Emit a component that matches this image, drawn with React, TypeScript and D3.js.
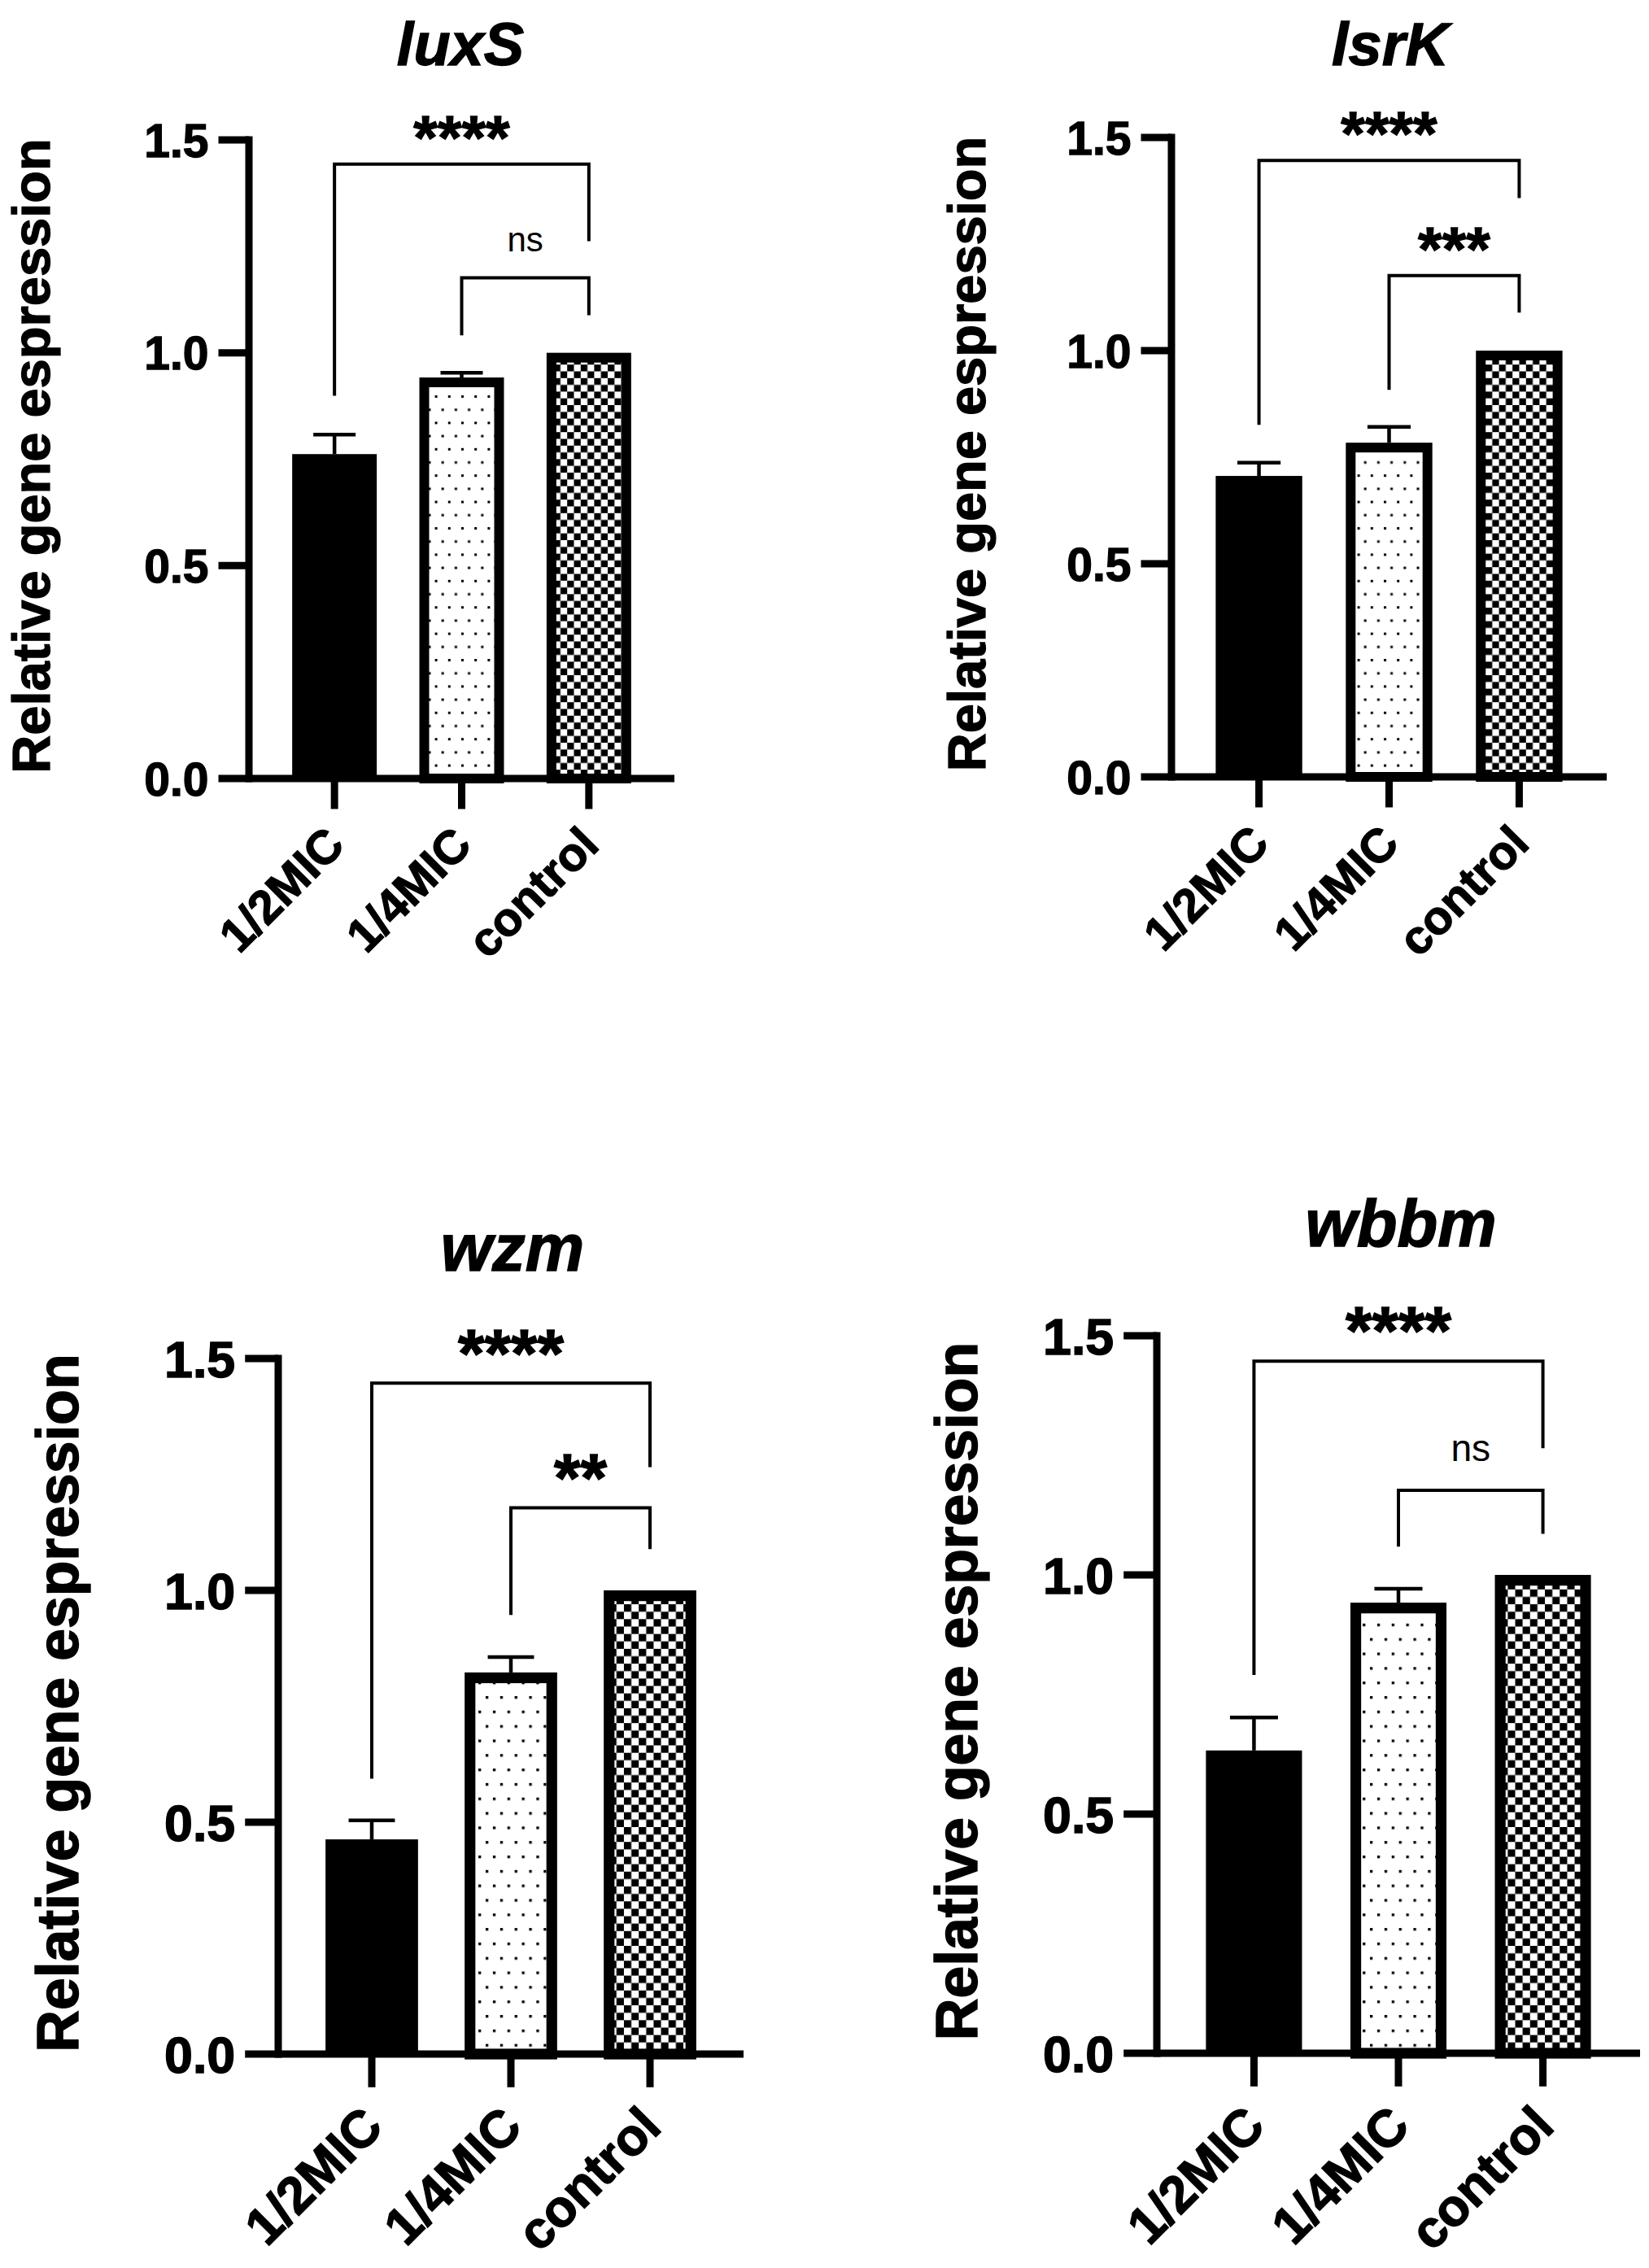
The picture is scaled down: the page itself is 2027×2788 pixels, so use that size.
import React from 'react';
import { scaleBand, scaleLinear } from 'd3';

const categories = ['1/2MIC', '1/4MIC', 'control'];
const yTicks = [0, 0.5, 1.0, 1.5];

const luxSMean = [0.762, 0.942, 1.0];
const luxSErr = [0.046, 0.011, 0];
const lsrKMean = [0.706, 0.784, 1.0];
const lsrKErr = [0.031, 0.037, 0];
const wzmMean = [0.463, 0.823, 1.0];
const wzmErr = [0.041, 0.033, 0];
const wbbmMean = [0.633, 0.942, 1.0];
const wbbmErr = [0.069, 0.029, 0];

// [from, to, bar level, left foot, right foot]
const luxSBrackets = [[0, 2, 1.443, 0.899, 1.262], [1, 2, 1.176, 1.041, 1.088]];
const lsrKBrackets = [[0, 2, 1.446, 0.826, 1.358], [1, 2, 1.176, 0.908, 1.089]];
const wzmBrackets = [[0, 2, 1.447, 0.594, 1.266], [1, 2, 1.178, 0.947, 1.089]];
const wbbmBrackets = [[0, 2, 1.447, 0.791, 1.265], [1, 2, 1.177, 1.059, 1.086]];

const luxSStars = ['****', 'ns'];
const lsrKStars = ['****', '***'];
const wzmStars = ['****', '**'];
const wbbmStars = ['****', 'ns'];

const FONT = '"Liberation Sans", Arial, Helvetica, sans-serif';

const panels = [
    { id: 'p1', gene: 'luxS', mean: luxSMean, err: luxSErr, brackets: luxSBrackets, stars: luxSStars,
      x0: 306, x1: 829, y0: 957, y1: 172, titleX: 566, titleY: 80, labelX: 61, k: 1 },
    { id: 'p2', gene: 'lsrK', mean: lsrKMean, err: lsrKErr, brackets: lsrKBrackets, stars: lsrKStars,
      x0: 1440, x1: 1975, y0: 955, y1: 169, titleX: 1709, titleY: 80, labelX: 1211, k: 1 },
    { id: 'p3', gene: 'wzm', mean: wzmMean, err: wzmErr, brackets: wzmBrackets, stars: wzmStars,
      x0: 342, x1: 914, y0: 2525, y1: 1670, titleX: 630, titleY: 1562, labelX: 96, k: 1.1 },
    { id: 'p4', gene: 'wbbm', mean: wbbmMean, err: wbbmErr, brackets: wbbmBrackets, stars: wbbmStars,
      x0: 1422, x1: 2016, y0: 2524, y1: 1642, titleX: 1722, titleY: 1532, labelX: 1201, k: 1.1 },
];

function Panel({ p }: { p: any }) {
    const k = p.k;
    const x = scaleBand<string>().domain(categories).range([p.x0, p.x1]).paddingInner(0.335).paddingOuter(0.34);
    const y = scaleLinear().domain([0, 1.5]).range([p.y0, p.y1]);
    const bw = x.bandwidth();
    const cx = (c: string) => (x(c) as number) + bw / 2;
    const axisW = 9;
    const tickLen = 33 * k + axisW / 2;
    const border = 12 * k;
    const dot = 16.2 * k;
    const chk = 8.3 * k;
    const heavy = { stroke: '#000', strokeWidth: 1.3 * k };

    return (
        <g>
            <defs>
                <pattern id={`${p.id}-dots`} patternUnits="userSpaceOnUse" width={dot} height={dot * 2}>
                    <rect width={dot} height={dot * 2} fill="#fff" />
                    <rect x={0} y={0} width={3 * k} height={3 * k} fill="#000" />
                    <rect x={dot / 2} y={dot} width={3 * k} height={3 * k} fill="#000" />
                </pattern>
                <pattern id={`${p.id}-chk`} patternUnits="userSpaceOnUse" width={chk * 2} height={chk * 2}>
                    <rect width={chk * 2} height={chk * 2} fill="#fff" />
                    <rect x={0} y={0} width={chk} height={chk} fill="#000" />
                    <rect x={chk} y={chk} width={chk} height={chk} fill="#000" />
                </pattern>
            </defs>

            {/* title */}
            <text x={p.titleX} y={p.titleY} textAnchor="middle" fontFamily={FONT} fontWeight="bold"
                fontStyle="italic" fontSize={74 * k} {...heavy}>{p.gene}</text>

            {/* y label */}
            <text transform={`translate(${p.labelX},${(p.y0 + p.y1) / 2 - 4}) rotate(-90)`} textAnchor="middle"
                fontFamily={FONT} fontWeight="bold" fontSize={65 * k} {...heavy}>Relative gene espression</text>

            {/* bars */}
            {categories.map((c, i) => {
                const top = y(p.mean[i]);
                const h = p.y0 - top;
                if (i === 0) {
                    return <rect key={c} x={x(c)} y={top} width={bw} height={h} fill="#000" />;
                }
                return (
                    <rect key={c} x={(x(c) as number) + border / 2} y={top + border / 2} width={bw - border}
                        height={h - border / 2} fill={`url(#${p.id}-${i === 1 ? 'dots' : 'chk'})`}
                        stroke="#000" strokeWidth={border} />
                );
            })}

            {/* error bars */}
            {categories.map((c, i) => p.err[i] > 0 && (
                <g key={c} stroke="#000" strokeWidth={4.5}>
                    <line x1={cx(c)} x2={cx(c)} y1={y(p.mean[i])} y2={y(p.mean[i] + p.err[i])} />
                    <line x1={cx(c) - bw / 4} x2={cx(c) + bw / 4} y1={y(p.mean[i] + p.err[i])}
                        y2={y(p.mean[i] + p.err[i])} />
                </g>
            ))}

            {/* axes */}
            <line x1={p.x0} x2={p.x0} y1={y(1.5)} y2={p.y0} stroke="#000" strokeWidth={axisW} strokeLinecap="square" />
            <line x1={p.x0} x2={p.x1} y1={p.y0} y2={p.y0} stroke="#000" strokeWidth={axisW} />
            {yTicks.map((t) => (
                <g key={t}>
                    <line x1={p.x0 - tickLen} x2={p.x0} y1={y(t)} y2={y(t)} stroke="#000" strokeWidth={axisW} />
                    <text x={p.x0 - tickLen - 12} y={y(t)} dy="0.36em" textAnchor="end" fontFamily={FONT}
                        fontWeight="bold" fontSize={57 * k} {...heavy}>{t.toFixed(1)}</text>
                </g>
            ))}
            {categories.map((c) => (
                <g key={c}>
                    <line x1={cx(c)} x2={cx(c)} y1={p.y0} y2={p.y0 + tickLen} stroke="#000" strokeWidth={axisW} />
                    <text transform={`translate(${cx(c) + 15 * k},${p.y0 + tickLen + 47 * k}) rotate(-45)`}
                        textAnchor="end" fontFamily={FONT} fontWeight="bold" fontSize={58 * k} {...heavy}>{c}</text>
                </g>
            ))}

            {/* significance brackets */}
            {p.brackets.map((b: number[], j: number) => {
                const xa = cx(categories[b[0]]);
                const xb = cx(categories[b[1]]);
                const lvl = y(b[2]);
                const ns = p.stars[j] === 'ns';
                return (
                    <g key={j}>
                        <path d={`M${xa},${y(b[3])}V${lvl}H${xb}V${y(b[4])}`} fill="none" stroke="#000" strokeWidth={4} />
                        <text x={(xa + xb) / 2} y={ns ? lvl - 33 * k : lvl - 7 * k} textAnchor="middle" fontFamily={FONT}
                            fontWeight={ns ? 'normal' : 'bold'} fontSize={ns ? 42 * k : 76 * k}
                            {...(ns ? {} : heavy)}>{p.stars[j]}</text>
                    </g>
                );
            })}
        </g>
    );
}

export default function App() {
    return (
        <svg width={2027} height={2788} style={{ position: 'absolute', left: 0, top: 0, background: '#fff' }}>
            <rect width={2027} height={2788} fill="#fff" />
            {panels.map((p) => <Panel key={p.id} p={p} />)}
        </svg>
    );
}
